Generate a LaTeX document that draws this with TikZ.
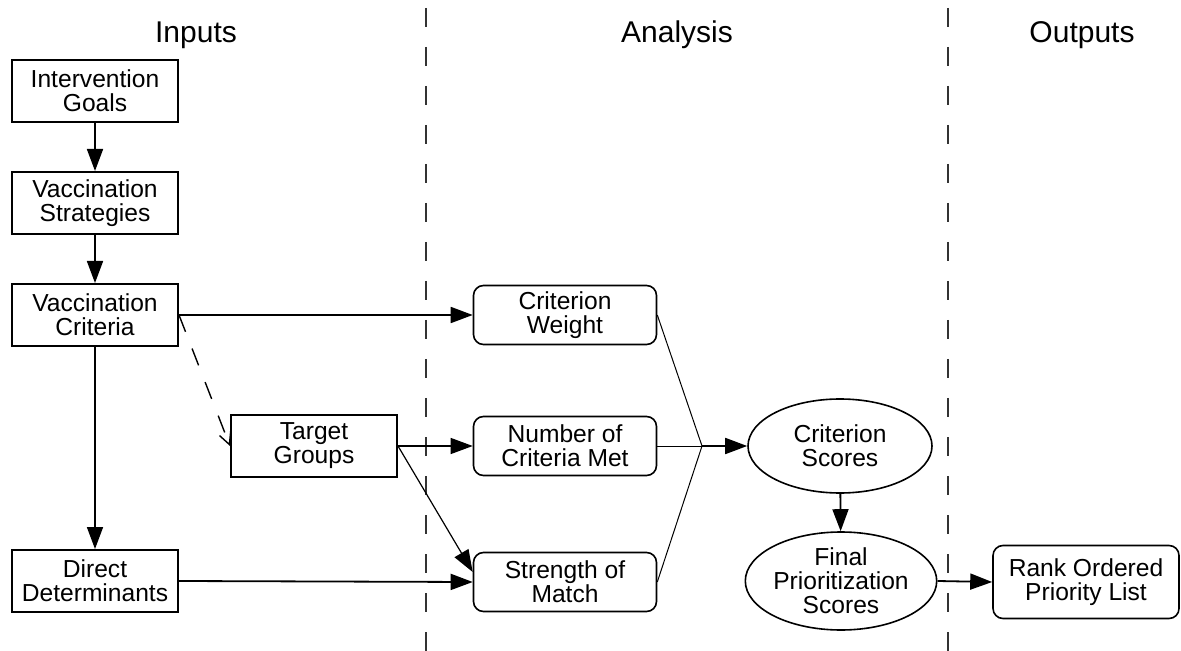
\documentclass[tikz,border=0pt]{standalone}
\usepackage{fontspec}
\setmainfont{Liberation Sans}
\usetikzlibrary{arrows.meta, shapes.geometric, calc}
\tikzset{
  inbox/.style={
    rectangle, draw=black, line width=1pt, minimum width=83pt, minimum height=31pt,
    align=center, inner sep=2pt, font=\fontsize{12.3}{12}\selectfont
  },
  anbox/.style={inbox, rounded corners=5pt, line width=0.8pt, minimum width=91.5pt, minimum height=29.5pt},
  outbox/.style={anbox, minimum width=93pt, minimum height=36.5pt},
  scorenode/.style={ellipse, draw=black, line width=0.8pt, inner sep=0pt,
    align=center, font=\fontsize{12.3}{12}\selectfont},
  edge/.style={-{Triangle[length=11pt,width=8pt]}, line width=0.9pt},
  lightedge/.style={edge, line width=0.6pt},
  looseedge/.style={-{Straight Barb[length=6pt,width=6pt]}, line width=0.7pt, dash pattern=on 9pt off 9pt},
  feed/.style={line width=0.5pt},
  sepline/.style={line width=0.6pt, draw=black!80, dash pattern=on 9.5pt off 10pt},
  colhead/.style={anchor=base, font=\fontsize{15}{15}\selectfont}
}

\begin{document}
\begin{tikzpicture}[x=0.5pt, y=-0.5pt]
    \useasboundingbox (0,0) rectangle (1181,651);
    % column separators and headings
    \foreach \x in {426,948} {\draw[sepline] (\x,8) -- (\x,651);}
    \node[colhead] (hin) at (196,43) {Inputs};
    \node[colhead] (han) at (677,43) {Analysis};
    \node[colhead] (hout) at (1082,43) {Outputs};

    % inputs
    \node[inbox] (goals) at (95,91) {Intervention\\Goals};
    \node[inbox] (strat) at (95,203) {Vaccination\\Strategies};
    \node[inbox] (crit) at (95,315) {Vaccination\\Criteria};
    \node[inbox] (target) at (314,446) {Target\\Groups};
    \node[inbox] (direct) at (95,581) {Direct\\Determinants};

    % analysis
    \node[anbox] (weight) at (565,315) {Criterion\\Weight};
    \node[anbox] (nummet) at (565,446) {Number of\\Criteria Met};
    \node[anbox] (strength) at (565,582) {Strength of\\Match};
    \coordinate (join) at (702,446);
    \node[scorenode, minimum width=92pt, minimum height=47pt] (scores) at (840,446) {Criterion\\Scores};
    \node[scorenode, minimum width=91.5pt, minimum height=49pt] (final) at (841,581) {Final\\Prioritization\\Scores};

    % outputs
    \node[outbox] (ranklist) at (1086,582) {Rank Ordered\\Priority List};

    \draw[edge] (goals) -- (strat);
    \draw[edge] (strat) -- (crit);
    \draw[edge] (crit) -- (direct);
    \draw[edge] (crit.east) -- (weight.west);
    \draw[looseedge] (crit.east) -- (target.west);
    \draw[lightedge] (target.east) -- (nummet.west);
    \draw[lightedge] (target.east) -- ([yshift=5pt]strength.west);
    \draw[edge] (direct.east) -- (strength.west);
    \draw[feed] (weight.east) -- (join);
    \draw[feed] (nummet.east) -- (join);
    \draw[feed] (strength.east) -- (join);
    \draw[edge] (join) -- (scores.west);
    \draw[edge] (scores) -- (final);
    \draw[edge] (final.east) -- (ranklist.west);
\end{tikzpicture}
\end{document}
